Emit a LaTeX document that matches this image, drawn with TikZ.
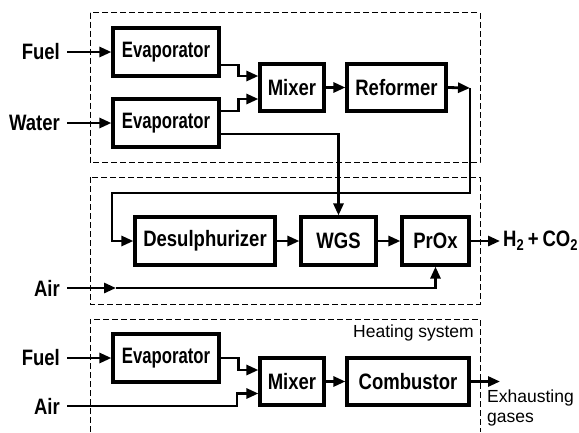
\documentclass[tikz,border=0pt]{standalone}
\usepackage{fontspec}
\setmainfont{Liberation Sans}
\newfontfamily\condfont[FakeStretch=0.83]{Liberation Sans}
\newfontfamily\evapfont[FakeStretch=0.75]{Liberation Sans}
\usetikzlibrary{arrows.meta}
\tikzset{
  blk/.style={draw, line width=3.2pt, inner sep=0pt, font=\condfont\bfseries\fontsize{22.3}{25}\selectfont},
  evap/.style={blk, font=\evapfont\bfseries\fontsize{22.3}{25}\selectfont},
  lbl/.style={inner sep=0pt, font=\condfont\bfseries\fontsize{22.3}{25}\selectfont},
  plain/.style={inner sep=0pt, font=\fontsize{17.5}{20}\selectfont},
  conn/.style={line width=2.8pt},
  arr/.style={conn, -{Triangle[length=12pt,width=10pt]}},
  dashbox/.style={line width=1pt, dash pattern=on 6pt off 3pt}
}
\begin{document}
\begin{tikzpicture}[x=1pt,y=-1pt]
\useasboundingbox (0,0) rectangle (579,432);
% dashed frames
\draw[dashbox] (90,12.7) rectangle (480,162.7);
\draw[dashbox] (90,177) rectangle (480,304);
\draw[dashbox] (90,432) -- (90,319) -- (480,319) -- (480,432);
% blocks
\node[evap, minimum width=106pt, minimum height=48pt] (ev1) at (166,52) {Evaporator};
\node[evap, minimum width=106pt, minimum height=48pt] (ev2) at (166,123) {Evaporator};
\node[blk, minimum width=64pt, minimum height=47pt] (mix1) at (292,87.5) {Mixer};
\node[blk, minimum width=99pt, minimum height=47pt] (ref) at (396.5,87.5) {Reformer};
\node[blk, minimum width=140pt, minimum height=48pt] (des) at (205,241) {Desulphurizer};
\node[blk, minimum width=75pt, minimum height=48pt] (wgs) at (338.5,241) {WGS};
\node[blk, minimum width=67pt, minimum height=48pt] (prox) at (435.5,241) {PrOx};
\node[evap, minimum width=106pt, minimum height=48pt] (ev3) at (166,358) {Evaporator};
\node[blk, minimum width=64pt, minimum height=47pt] (mix3) at (292,381.5) {Mixer};
\node[blk, minimum width=122pt, minimum height=47pt] (comb) at (408,381.5) {Combustor};
% labels
\node[lbl, anchor=east] (fuel1) at (60,52) {Fuel};
\node[lbl, anchor=east] (water) at (60,123) {Water};
\node[lbl, anchor=east] (air2) at (60,288) {Air};
\node[lbl, anchor=east] (fuel3) at (60,358) {Fuel};
\node[lbl, anchor=east] (air3) at (60,406) {Air};
\node[lbl, anchor=west] (h2) at (503,241) {H\textsubscript{2}\,+\,CO\textsubscript{2}};
\node[plain, anchor=base east] (heat) at (474,337) {Heating system};
\node[plain, anchor=north west, align=left] (exh) at (487,390) {Exhausting\\gases};
% coordinates
\coordinate (airmid) at (116,288);
\coordinate (refout) at (470,88);
\coordinate (combout) at (500,381.5);
% section 1
\draw[arr] (fuel1.east) ++(7,0) -- (ev1.west);
\draw[arr] (water.east) ++(7,0) -- (ev2.west);
\draw[arr] ([yshift=-13pt]ev1.east) -- ++(18,0) |- ([yshift=11.5pt]mix1.west);
\draw[arr] ([yshift=12pt]ev2.east) -- ++(18,0) |- ([yshift=-11.5pt]mix1.west);
\draw[arr] (mix1) -- (ref);
\draw[arr] (ref.east) -- (refout);
\draw[arr] (refout) -- (470,193) -| (112,241) -- (des.west);
\draw[arr] ([yshift=-11pt]ev2.east) -| (wgs.north);
% section 2
\draw[arr] (des) -- (wgs);
\draw[arr] (wgs) -- (prox);
\draw[arr] (prox.east) -- ([xshift=-3pt]h2.west);
\draw[arr] (air2.east) ++(7,0) -- (airmid);
\draw[arr] (airmid) -| (prox.south);
% section 3
\draw[arr] (fuel3.east) ++(7,0) -- (ev3.west);
\draw[arr] (ev3.east) -- ++(18,0) |- ([yshift=11.5pt]mix3.west);
\draw[arr] (air3.east) ++(7,0) -- (237,406) |- ([yshift=-12pt]mix3.west);
\draw[arr] (mix3) -- (comb);
\draw[arr] (comb.east) -- (combout);
\end{tikzpicture}
\end{document}
